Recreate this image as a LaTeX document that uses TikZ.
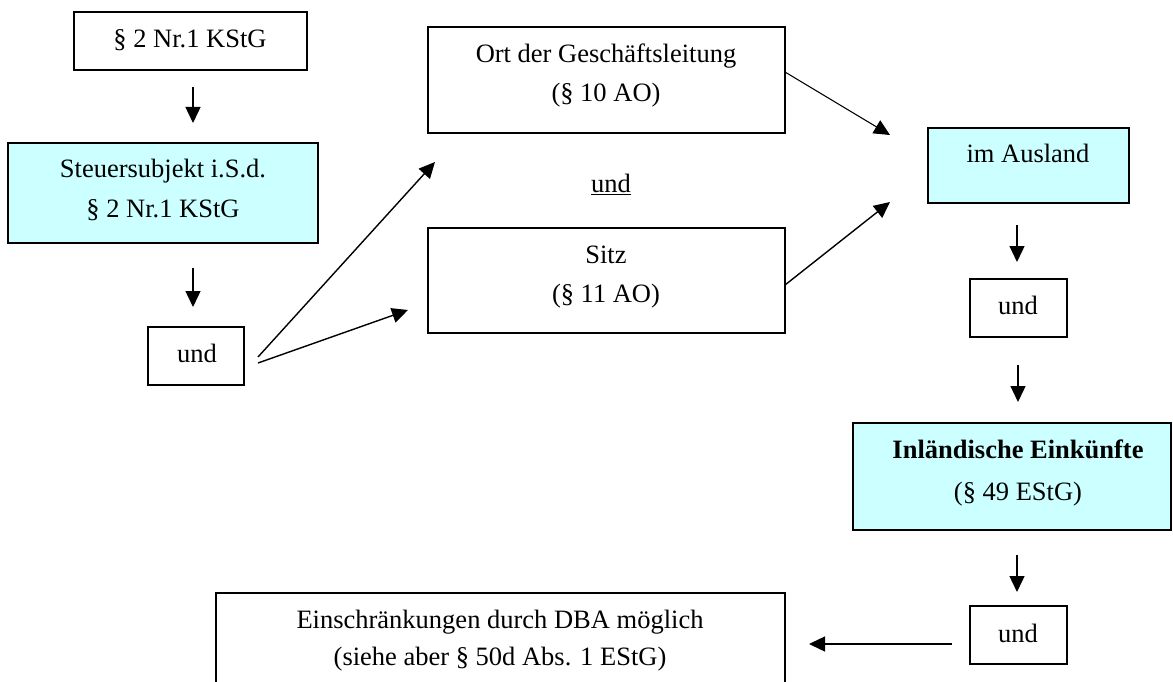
\documentclass[tikz,border=0pt]{standalone}
\usepackage{fontspec}
\setmainfont{Liberation Serif}
\usetikzlibrary{arrows.meta,calc}
\definecolor{lcyan}{RGB}{204,255,255}
\begin{document}
\begin{tikzpicture}[x=1pt,y=-1pt,
  box/.style={draw,line width=1.4pt,inner sep=0pt,outer sep=0pt,anchor=north west},
  cbox/.style={box,fill=lcyan},
  txt/.style={anchor=base,inner sep=0pt,font=\fontsize{26.5}{31}\selectfont},
  arr/.style={line width=1.4pt,-{Triangle[length=16pt,width=15pt]}}]
\useasboundingbox (0,0) rectangle (1173,682);
\clip (0,0) rectangle (1173,682);
% boxes
\node[box,minimum width=233pt,minimum height=58pt] (b1) at (74,12) {};
\node[cbox,minimum width=310pt,minimum height=100pt] (b2) at (8,143) {};
\node[box,minimum width=96pt,minimum height=58pt] (u1) at (148,327) {};
\node[box,minimum width=357pt,minimum height=106pt] (ort) at (428,27) {};
\node[box,minimum width=357pt,minimum height=105pt] (sitz) at (428,228) {};
\node[cbox,minimum width=201pt,minimum height=75pt] (aus) at (928,128) {};
\node[box,minimum width=97pt,minimum height=58pt] (u2) at (970,279) {};
\node[cbox,minimum width=318pt,minimum height=107pt] (inl) at (853,423) {};
\node[box,minimum width=97pt,minimum height=58pt] (u3) at (970,606) {};
\node[box,minimum width=569pt,minimum height=110pt] (ein) at (216,593) {};
% texts
\node[txt] (t1) at (190,48) {§ 2 Nr.1 KStG};
\node[txt] (t2a) at (163,178) {Steuersubjekt i.S.d.};
\node[txt] (t2b) at (163,217) {§ 2 Nr.1 KStG};
\node[txt] (tu1) at (197,362) {und};
\node[txt] (tortA) at (606,63) {Ort der Geschäftsleitung};
\node[txt] (tortB) at (606,102) {(§ 10 AO)};
\node[txt] (tund) at (611,193) {\underline{und}};
\node[txt] (tsitzA) at (606,263) {Sitz};
\node[txt] (tsitzB) at (606,302) {(§ 11 AO)};
\node[txt] (taus) at (1028,163) {im Ausland};
\node[txt] (tu2) at (1018,314) {und};
\node[txt] (tinlA) at (1018,458) {\bfseries Inländische Einkünfte};
\node[txt] (tinlB) at (1018,500) {(§ 49 EStG)};
\node[txt] (tu3) at (1018,642) {und};
\node[txt] (teinA) at (500,628) {Einschränkungen durch DBA möglich};
\node[txt] (teinB) at (500,665) {(siehe aber § 50d Abs. 1 EStG)};
% arrows
\draw[arr] ([xshift=2.5pt]b1.south) ++(0,17) -- ++(0,36);
\draw[arr] ([xshift=30pt]b2.south) ++(0,25) -- ++(0,39);
\draw[arr] ($(u1.east)+(14,1)$) -- ($(ort.south west)+(7,29)$);
\draw[arr] ($(u1.east)+(14,7)$) -- ($(sitz.west)+(-20,29.5)$);
\draw[arr,line width=1.1pt] ($(ort.east)+(0,-8)$) -- ($(aus.west)+(-38,-30.5)$);
\draw[arr] ($(sitz.east)+(0,4.5)$) -- ($(aus.west)+(-38,36.5)$);
\draw[arr] ([xshift=-11.5pt]aus.south) ++(0,22) -- ++(0,37);
\draw[arr] ([xshift=-0.5pt]u2.south) ++(0,28) -- ++(0,37);
\draw[arr] ([xshift=5pt]inl.south) ++(0,25) -- ++(0,37);
\draw[arr] ($(u3.west)+(-18,9)$) -- ++(-143,0);
\end{tikzpicture}
\end{document}
